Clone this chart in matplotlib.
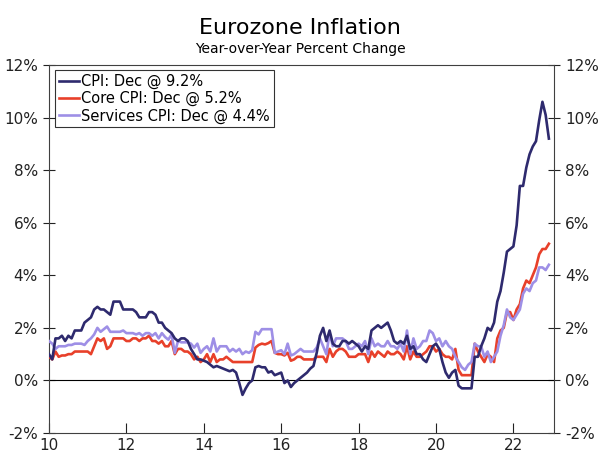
import numpy as np
import matplotlib
matplotlib.use("Agg")
import matplotlib.pyplot as plt

# monthly, Jan 2010 - Dec 2022 (year-over-year % change)
cpi = [1.0, 0.8, 1.6, 1.6, 1.7, 1.5, 1.7, 1.6, 1.9, 1.9, 1.9, 2.2,
       2.3, 2.4, 2.7, 2.8, 2.7, 2.7, 2.6, 2.5, 3.0, 3.0, 3.0, 2.7,
       2.7, 2.7, 2.7, 2.6, 2.4, 2.4, 2.4, 2.6, 2.6, 2.5, 2.2, 2.2,
       2.0, 1.9, 1.8, 1.6, 1.5, 1.6, 1.6, 1.5, 1.2, 1.0, 0.8, 0.8,
       0.75, 0.7, 0.6, 0.5, 0.55, 0.5, 0.45, 0.4, 0.35, 0.4, 0.3, -0.1,
       -0.55, -0.3, -0.1, 0.0, 0.5, 0.55, 0.5, 0.5, 0.3, 0.35, 0.2, 0.25,
       0.3, -0.1, 0.0, -0.25, -0.1, 0.0, 0.1, 0.2, 0.3, 0.45, 0.55, 1.05,
       1.7, 2.0, 1.5, 1.9, 1.4, 1.3, 1.3, 1.5, 1.5, 1.4, 1.5, 1.4,
       1.3, 1.1, 1.3, 1.2, 1.9, 2.0, 2.1, 2.0, 2.1, 2.2, 1.9, 1.5,
       1.4, 1.5, 1.4, 1.7, 1.2, 1.3, 1.0, 1.0, 0.8, 0.7, 1.0, 1.3,
       1.4, 1.2, 0.7, 0.3, 0.1, 0.3, 0.4, -0.2, -0.3, -0.3, -0.3, -0.3,
       0.9, 0.9, 1.3, 1.6, 2.0, 1.9, 2.2, 3.0, 3.4, 4.1, 4.9, 5.0,
       5.1, 5.9, 7.4, 7.4, 8.1, 8.6, 8.9, 9.1, 9.9, 10.6, 10.1, 9.2]

core = [0.9, 0.8, 1.1, 0.9, 0.95, 0.95, 1.0, 1.0, 1.1, 1.1, 1.1, 1.1,
        1.1, 1.0, 1.3, 1.6, 1.5, 1.6, 1.2, 1.3, 1.6, 1.6, 1.6, 1.6,
        1.5, 1.5, 1.6, 1.6, 1.5, 1.6, 1.6, 1.7, 1.5, 1.5, 1.4, 1.5,
        1.3, 1.3, 1.5, 1.0, 1.2, 1.2, 1.1, 1.1, 1.0, 0.8, 0.9, 0.7,
        0.8, 1.0, 0.7, 1.0, 0.7, 0.8, 0.8, 0.9, 0.8, 0.7, 0.7, 0.7,
        0.7, 0.7, 0.7, 0.7, 1.25, 1.35, 1.4, 1.37, 1.42, 1.5, 1.05, 1.0,
        1.0, 0.95, 1.05, 0.75, 0.8, 0.9, 0.9, 0.8, 0.8, 0.8, 0.8, 0.9,
        0.9, 0.9, 0.7, 1.2, 0.9, 1.1, 1.2, 1.2, 1.1, 0.9, 0.9, 0.9,
        1.0, 1.0, 1.0, 0.7, 1.1, 0.9, 1.1, 1.0, 0.9, 1.1, 1.0, 1.0,
        1.1, 1.0, 0.8, 1.3, 0.8, 1.1, 0.9, 0.9, 1.0, 1.1, 1.3, 1.3,
        1.1, 1.2, 1.0, 0.9, 0.9, 0.8, 1.2, 0.4, 0.2, 0.2, 0.2, 0.2,
        1.4, 1.1, 0.9, 0.7, 1.0, 0.9, 0.7, 1.6, 1.9, 2.0, 2.6, 2.6,
        2.3, 2.7, 2.9, 3.5, 3.8, 3.7, 4.0, 4.3, 4.8, 5.0, 5.0, 5.2]

services = [1.5, 1.4, 1.2, 1.3, 1.3, 1.3, 1.35, 1.35, 1.4, 1.4, 1.4, 1.35,
            1.5, 1.6, 1.75, 2.0, 1.85, 1.95, 2.05, 1.85, 1.85, 1.85, 1.85, 1.9,
            1.8, 1.8, 1.8, 1.75, 1.8, 1.7, 1.8, 1.8, 1.7, 1.8, 1.6, 1.8,
            1.65, 1.55, 1.75, 1.05, 1.5, 1.45, 1.45, 1.45, 1.4, 1.25, 1.4, 1.05,
            1.2, 1.3, 1.1, 1.6, 1.1, 1.3, 1.3, 1.3, 1.1, 1.2, 1.1, 1.2,
            1.0, 1.1, 1.05, 1.15, 1.85, 1.75, 1.95, 1.95, 1.95, 1.95, 1.05, 1.1,
            1.15, 1.0, 1.4, 0.95, 1.0, 1.1, 1.2, 1.1, 1.1, 1.1, 1.1, 1.25,
            1.6, 1.3, 1.0, 1.8, 1.3, 1.6, 1.6, 1.6, 1.5, 1.2, 1.2, 1.3,
            1.4, 1.3, 1.5, 1.0, 1.6, 1.3, 1.4, 1.3, 1.3, 1.5, 1.3, 1.3,
            1.2, 1.4, 1.1, 1.9, 1.0, 1.6, 1.2, 1.3, 1.5, 1.5, 1.9, 1.8,
            1.5, 1.6, 1.3, 1.5, 1.3, 1.2, 0.9, 0.7, 0.5, 0.4, 0.6, 0.7,
            1.4, 1.3, 1.3, 0.9, 1.1, 0.7, 0.9, 1.1, 1.7, 2.1, 2.7, 2.4,
            2.3, 2.5, 2.7, 3.3, 3.5, 3.4, 3.7, 3.8, 4.3, 4.3, 4.2, 4.4]

labels = ["CPI: Dec @ 9.2%", "Core CPI: Dec @ 5.2%", "Services CPI: Dec @ 4.4%"]
x_ticks = [2010, 2012, 2014, 2016, 2018, 2020, 2022]
x_ticklabels = ["10", "12", "14", "16", "18", "20", "22"]
y_ticks = [-2, 0, 2, 4, 6, 8, 10, 12]

t = 2010 + np.arange(len(cpi)) / 12.0

fig = plt.figure(figsize=(6.0, 4.61), dpi=100)
ax = fig.add_axes([0.0817, 0.0607, 0.8417, 0.7983])

l1, = ax.plot(t, cpi, color="#2e2a6e", lw=1.9, zorder=4)
l2, = ax.plot(t, core, color="#e8402a", lw=1.9, zorder=3)
l3, = ax.plot(t, services, color="#9e8fe6", lw=1.9, zorder=3.5)
ax.axhline(0, color="black", lw=0.8, zorder=2)

ax.set_xlim(2010, 2023.05)
ax.set_ylim(-2, 12)
ax.set_xticks(x_ticks)
ax.set_xticklabels(x_ticklabels)
ax.set_yticks(y_ticks)
ax.set_yticklabels(["%d%%" % v for v in y_ticks])

ax.tick_params(axis="y", direction="inout", length=9, width=0.8, labelsize=11,
               right=True, labelright=True, colors="#222222")
ax.tick_params(axis="x", direction="in", length=7, width=0.8, labelsize=11,
               colors="#222222")
for s in ax.spines.values():
    s.set_color("#404040")
    s.set_linewidth(0.8)

leg = ax.legend([l1, l2, l3], labels, loc="upper left",
                bbox_to_anchor=(0.012, 0.986), fontsize=10.5, frameon=True,
                fancybox=False, edgecolor="black", handlelength=1.4,
                handletextpad=0.15, borderpad=0.25, labelspacing=0.15,
                borderaxespad=0)
leg.get_frame().set_linewidth(0.8)

fig.text(0.5, 0.926, "Eurozone Inflation", ha="center", va="baseline", fontsize=16)
fig.text(0.5, 0.885, "Year-over-Year Percent Change", ha="center", va="baseline",
         fontsize=10)

fig.savefig("out.png", dpi=100)
